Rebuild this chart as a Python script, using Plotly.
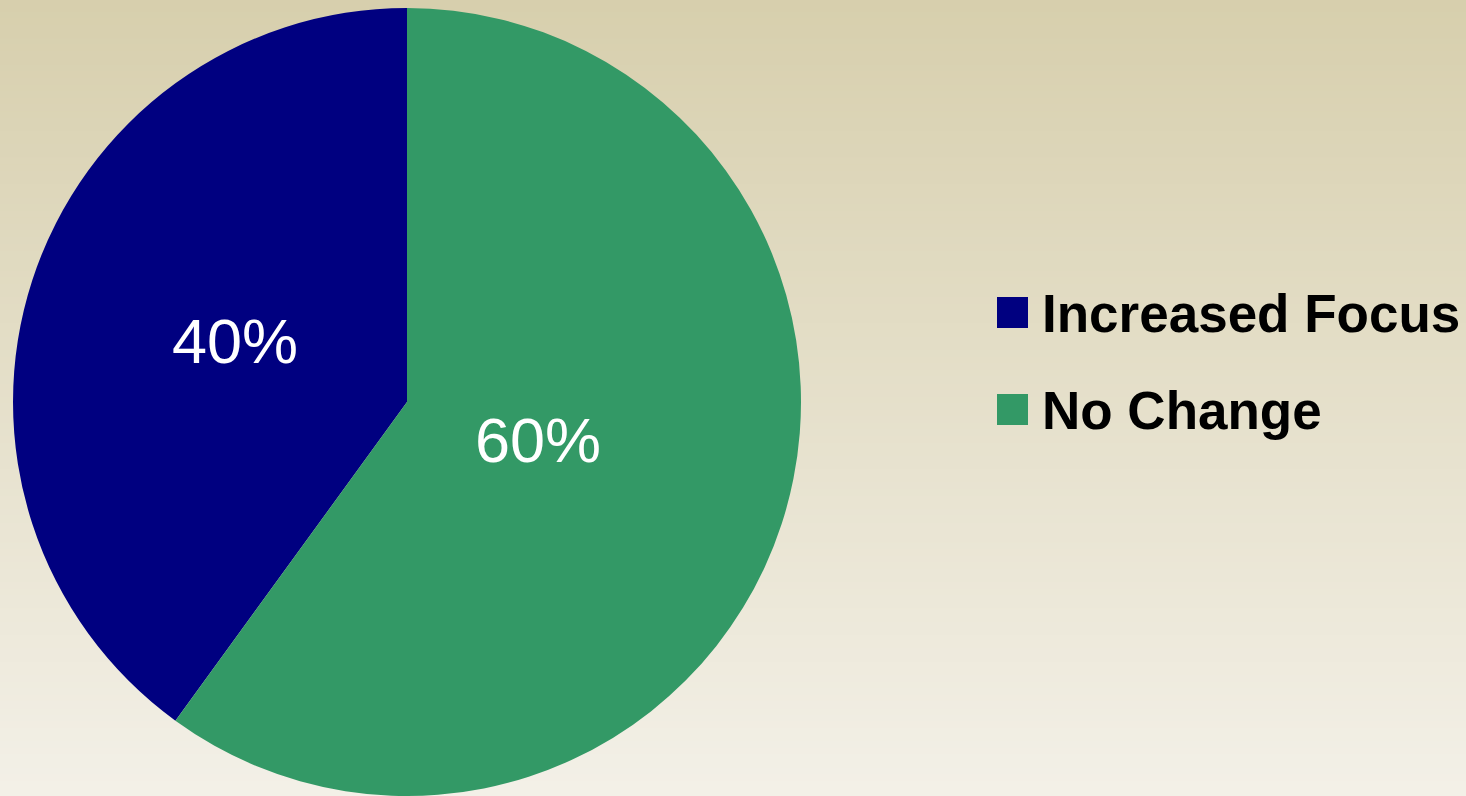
import math
import plotly.graph_objects as go

# Survey breakdown
labels = ["Increased Focus", "No Change"]
values = [40, 60]
colors = ["#000080", "#339966"]

W, H = 1466, 796

# Pie placement in pixels
cx_px, cy_px, r_px = 407, 402, 394
# Radial position of each value label, as a fraction of the radius
label_radius = [0.46, 0.35]

total = sum(values)

fig = go.Figure()

# First slice ends at 12 o'clock, laid out counterclockwise from there
fig.add_trace(go.Pie(
    labels=labels,
    values=values,
    sort=False,
    direction="clockwise",
    rotation=-360.0 * values[0] / total,
    marker=dict(colors=colors, line=dict(width=0)),
    textinfo="none",
    hoverinfo="label+percent",
    showlegend=False,
    domain=dict(
        x=[(cx_px - r_px) / W, (cx_px + r_px) / W],
        y=[max(0.0, 1 - (cy_px + r_px) / H), 1 - (cy_px - r_px) / H],
    ),
))

# Vertical background gradient built from thin bands
top_rgb = (215, 207, 173)
bot_rgb = (243, 240, 231)
n_bands = 120
shapes = []
for i in range(n_bands):
    t = i / (n_bands - 1)
    r = round(top_rgb[0] + (bot_rgb[0] - top_rgb[0]) * t)
    g = round(top_rgb[1] + (bot_rgb[1] - top_rgb[1]) * t)
    b = round(top_rgb[2] + (bot_rgb[2] - top_rgb[2]) * t)
    y1 = 1 - i / n_bands
    y0 = 1 - (i + 1) / n_bands
    shapes.append(dict(
        type="rect", xref="paper", yref="paper",
        x0=0, x1=1, y0=y0 - 0.002, y1=y1 + 0.002,
        fillcolor=f"rgb({r},{g},{b})", line=dict(width=0), layer="below",
    ))

annotations = []

# Value labels placed on each slice's bisector (slices run counterclockwise from 12 o'clock)
start = 0.0
for val, frac in zip(values, label_radius):
    sweep = 360.0 * val / total
    mid = math.radians(-(start + sweep / 2))
    start += sweep
    px = cx_px + r_px * frac * math.sin(mid)
    py = cy_px - r_px * frac * math.cos(mid)
    annotations.append(dict(
        xref="paper", yref="paper", x=px / W, y=1 - py / H,
        xanchor="center", yanchor="middle", showarrow=False, yshift=5,
        text=f"{val}%",
        font=dict(family="Liberation Sans, Arial, sans-serif", size=63, color="white"),
    ))

# Legend: square swatch plus bold label for each category
legend_x = 997 / W
sq = 31
row_top = [297, 394]
for lab, col, yt in zip(labels, colors, row_top):
    shapes.append(dict(
        type="rect", xref="paper", yref="paper",
        x0=legend_x, x1=legend_x + sq / W,
        y0=1 - (yt + sq) / H, y1=1 - yt / H,
        fillcolor=col, line=dict(width=0), layer="above",
    ))
    annotations.append(dict(
        xref="paper", yref="paper",
        x=1040 / W, y=1 - (yt + sq / 2 + 1) / H,
        xanchor="left", yanchor="middle",
        text=f"<b>{lab}</b>", showarrow=False,
        font=dict(family="Liberation Sans, Arial, sans-serif", size=53, color="black"),
    ))

fig.update_layout(
    width=W, height=H,
    margin=dict(l=0, r=0, t=0, b=0),
    paper_bgcolor="rgb(215,207,173)",
    plot_bgcolor="rgba(0,0,0,0)",
    shapes=shapes,
    annotations=annotations,
)

fig.write_html("out.html")
